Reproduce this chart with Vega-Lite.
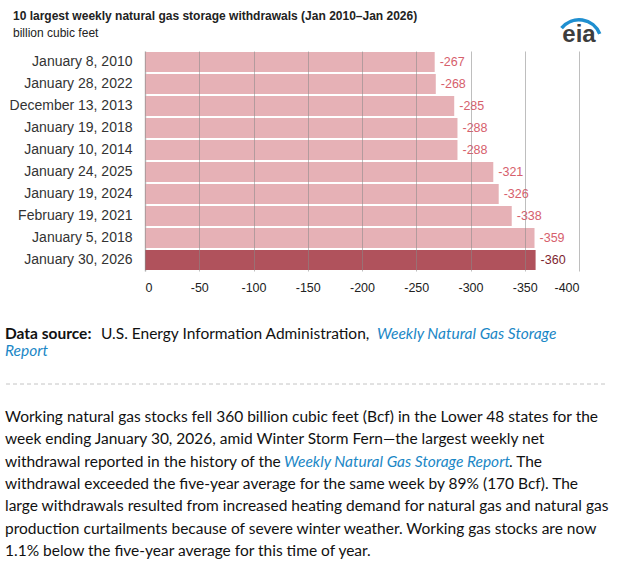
{
  "$schema": "https://vega.github.io/schema/vega-lite/v6.json",
  "padding": {"left": 5, "top": 9, "right": 5, "bottom": 0},
  "background": "white",
  "spacing": 20,
  "config": {"view": {"stroke": null}, "font": "Liberation Sans"},
  "datasets": {
    "bars": [
      {"week": "January 8, 2010", "change": -267, "latest": "no"},
      {"week": "January 28, 2022", "change": -268, "latest": "no"},
      {"week": "December 13, 2013", "change": -285, "latest": "no"},
      {"week": "January 19, 2018", "change": -288, "latest": "no"},
      {"week": "January 10, 2014", "change": -288, "latest": "no"},
      {"week": "January 24, 2025", "change": -321, "latest": "no"},
      {"week": "January 19, 2024", "change": -326, "latest": "no"},
      {"week": "February 19, 2021", "change": -338, "latest": "no"},
      {"week": "January 5, 2018", "change": -359, "latest": "no"},
      {"week": "January 30, 2026", "change": -360, "latest": "yes"}
    ],
    "source": [
      {"line": 1, "part": "label", "text": "Data source:"},
      {"line": 1, "part": "org", "text": "U.S. Energy Information Administration,"},
      {"line": 1, "part": "link1", "text": "Weekly Natural Gas Storage"},
      {"line": 2, "part": "link2", "text": "Report"}
    ],
    "para": [
      {"line": 1, "part": "plain", "text": "Working natural gas stocks fell 360 billion cubic feet (Bcf) in the Lower 48 states for the"},
      {"line": 2, "part": "plain", "text": "week ending January 30, 2026, amid Winter Storm Fern—the largest weekly net"},
      {"line": 3, "part": "plain", "text": "withdrawal reported in the history of the"},
      {"line": 3, "part": "link", "text": "Weekly Natural Gas Storage Report"},
      {"line": 3, "part": "tail", "text": ". The"},
      {"line": 4, "part": "plain", "text": "withdrawal exceeded the five-year average for the same week by 89% (170 Bcf). The"},
      {"line": 5, "part": "plain", "text": "large withdrawals resulted from increased heating demand for natural gas and natural gas"},
      {"line": 6, "part": "plain", "text": "production curtailments because of severe winter weather. Working gas stocks are now"},
      {"line": 7, "part": "plain", "text": "1.1% below the five-year average for this time of year."}
    ],
    "divider": [
      {"start": 0, "end": 1, "pos": -0.48}
    ]
  },
  "vconcat": [
    {
      "width": 434,
      "height": 220,
      "title": {
        "text": "10 largest weekly natural gas storage withdrawals (Jan 2010–Jan 2026)",
        "subtitle": "billion cubic feet",
        "anchor": "start",
        "dx": 8,
        "offset": -22,
        "font": "Liberation Sans",
        "fontSize": 12,
        "fontWeight": "bold",
        "color": "#222",
        "subtitleFont": "Liberation Sans",
        "subtitleFontSize": 12,
        "subtitleColor": "#222",
        "subtitlePadding": 5
      },
      "data": {"name": "bars"},
      "encoding": {
        "y": {
          "field": "week",
          "type": "nominal",
          "sort": null,
          "scale": {"paddingInner": 0.1, "paddingOuter": 0.05},
          "axis": {
            "title": null,
            "labelFontSize": 14,
            "labelColor": "#333",
            "ticks": false,
            "domainColor": "#dddddd",
            "domainWidth": 2,
            "labelPadding": 13,
            "minExtent": 140,
            "maxExtent": 140,
            "labelLimit": 200
          }
        }
      },
      "layer": [
        {
          "mark": {"type": "bar"},
          "encoding": {
            "x": {
              "field": "change",
              "type": "quantitative",
              "scale": {"domain": [0, -400], "nice": false},
              "axis": {
                "title": null,
                "values": [0, -50, -100, -150, -200, -250, -300, -350, -400],
                "labelExpr": "'' + datum.value",
                "grid": true,
                "gridColor": "#888888",
                "gridOpacity": 0.55,
                "domain": false,
                "ticks": false,
                "labelFontSize": 12.5,
                "labelColor": "#222",
                "labelPadding": 10,
                "zindex": 1
              }
            },
            "color": {
              "condition": {"test": "datum.latest == 'yes'", "value": "#b0525c"},
              "value": "#e6b1b6"
            }
          }
        },
        {
          "mark": {"type": "text", "align": "left", "dx": 5, "fontSize": 12.5},
          "encoding": {
            "x": {"field": "change", "type": "quantitative"},
            "text": {"field": "change", "type": "nominal"},
            "color": {
              "condition": {"test": "datum.latest == 'yes'", "value": "#7d1f2f"},
              "value": "#d6606c"
            }
          }
        },
        {
          "data": {"values": [{"logo": "eia"}]},
          "mark": {"type": "arc", "theta": -0.9, "theta2": 1.2, "radius": 24, "radius2": 20.5, "color": "#1f8fd0", "yOffset": -20},
          "encoding": {
            "x": {"datum": -400},
            "y": {"datum": "January 8, 2010"}
          }
        },
        {
          "data": {"values": [{"logo": "eia"}]},
          "mark": {"type": "text", "fontSize": 24, "fontWeight": "bold", "color": "#3d3d3d", "dy": -27},
          "encoding": {
            "x": {"datum": -400},
            "y": {"datum": "January 8, 2010"},
            "text": {"field": "logo"}
          }
        }
      ]
    },
    {
      "width": 604,
      "height": 49,
      "data": {"name": "source"},
      "encoding": {
        "y": {"field": "line", "type": "quantitative", "scale": {"domain": [-0.176, 2.706], "reverse": true, "nice": false, "zero": false}, "axis": null},
        "x": {"value": -140},
        "text": {"field": "text"}
      },
      "layer": [
        {"transform": [{"filter": "datum.part == 'label'"}], "mark": {"type": "text", "align": "left", "font": "Lato", "fontSize": 15.5, "fontWeight": "bold", "color": "#111"}},
        {"transform": [{"filter": "datum.part == 'org'"}], "mark": {"type": "text", "align": "left", "dx": 96, "font": "Lato", "fontSize": 15.5, "color": "#111"}},
        {"transform": [{"filter": "datum.part == 'link1'"}], "mark": {"type": "text", "align": "left", "dx": 372, "font": "Lato", "fontSize": 15.5, "fontStyle": "italic", "color": "#1b87c6"}},
        {"transform": [{"filter": "datum.part == 'link2'"}], "mark": {"type": "text", "align": "left", "font": "Lato", "fontSize": 15.5, "fontStyle": "italic", "color": "#1b87c6"}}
      ]
    },
    {
      "width": 604,
      "height": 181,
      "layer": [
        {
          "data": {"name": "divider"},
          "mark": {"type": "rule", "strokeDash": [4, 3], "color": "#c4c4c4", "strokeWidth": 1},
          "encoding": {
            "x": {"field": "start", "type": "quantitative", "scale": {"domain": [0, 1], "range": [-139, 463], "nice": false, "zero": false}, "axis": null},
            "x2": {"field": "end"},
            "y": {"field": "pos", "type": "quantitative", "scale": {"domain": [-0.525, 7.592], "reverse": true, "nice": false, "zero": false}, "axis": null}
          }
        },
        {
          "data": {"name": "para"},
          "encoding": {
            "y": {"field": "line", "type": "quantitative", "axis": null},
            "x": {"value": -140},
            "text": {"field": "text"}
          },
          "layer": [
            {"transform": [{"filter": "datum.part == 'plain'"}], "mark": {"type": "text", "align": "left", "font": "Lato", "fontSize": 15.5, "color": "#111"}},
            {"transform": [{"filter": "datum.part == 'link'"}], "mark": {"type": "text", "align": "left", "dx": 279, "font": "Lato", "fontSize": 15.5, "fontStyle": "italic", "color": "#1b87c6"}},
            {"transform": [{"filter": "datum.part == 'tail'"}], "mark": {"type": "text", "align": "left", "dx": 504, "font": "Lato", "fontSize": 15.5, "color": "#111"}}
          ]
        }
      ]
    }
  ]
}
